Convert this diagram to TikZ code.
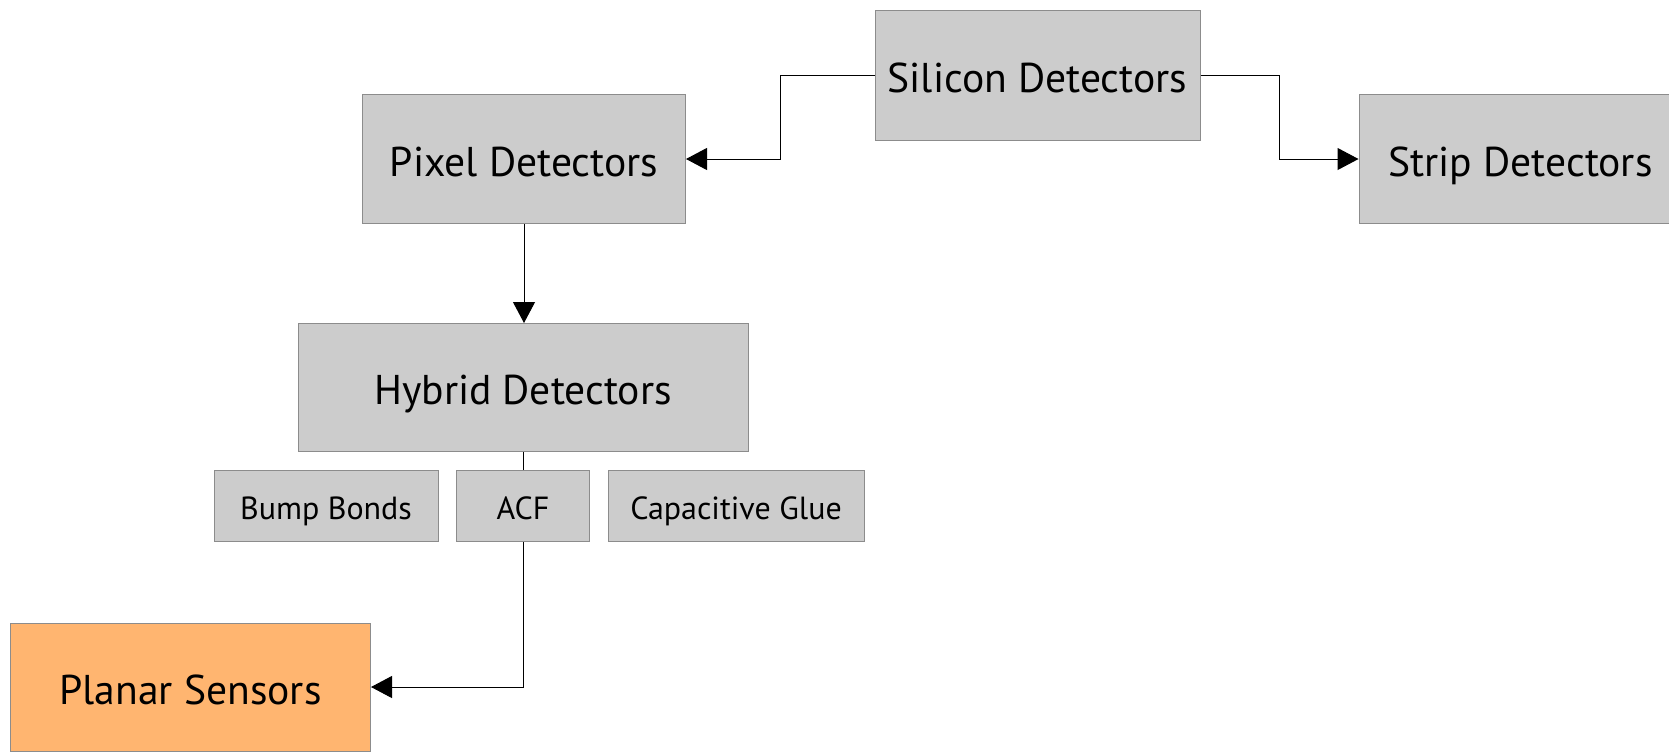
\documentclass[tikz,border=0pt]{standalone}
\usepackage{fontspec}
\setmainfont{PT Sans}
\usetikzlibrary{arrows.meta,calc}
\definecolor{boxgray}{HTML}{CCCCCC}
\definecolor{linegray}{HTML}{8C8C8C}
\definecolor{planarorange}{HTML}{FFB570}
\tikzset{
	detbox/.style={draw=linegray, fill=boxgray, line width=0.5pt, inner sep=0pt,
		text height=17pt, text depth=0pt, font=\fontsize{20.8}{25}\selectfont},
	bondbox/.style={detbox, minimum height=35.5pt, text height=13.2pt,
		font=\fontsize{16}{19}\selectfont},
	link/.style={line width=0.5pt, -{Triangle[length=10.5pt,width=11pt]}}
}
\begin{document}
\begin{tikzpicture}[x=0.5pt,y=-0.5pt]
	\useasboundingbox (0,0) rectangle (1669,751);
	% detector types
	\node[detbox, minimum width=162.5pt, minimum height=65pt] (sil) at (1037.5,75.5) {Silicon Detectors};
	\node[detbox, minimum width=161.5pt, minimum height=64.5pt] (pix) at (524,159) {Pixel Detectors};
	\node[detbox, minimum width=161.5pt, minimum height=64.5pt] (strip) at (1520.5,159) {Strip Detectors};
	\node[detbox, minimum width=225pt, minimum height=64pt] (hyb) at (523,387.5) {Hybrid Detectors};
	% interconnects
	\node[bondbox, minimum width=112pt] (bump) at (326,506) {Bump Bonds};
	\node[bondbox, minimum width=66.5pt] (acf) at (523,506) {ACF};
	\node[bondbox, minimum width=128pt] (glue) at (736,506) {Capacitive Glue};
	\node[detbox, fill=planarorange, minimum width=180pt, minimum height=64pt] (planar) at (190.5,687) {Planar Sensors};
	% connectors
	\draw[link] (sil.west) -| ($(sil.west)!0.5!(pix.east)$) |- (pix.east);
	\draw[link] (sil.east) -| ($(sil.east)!0.5!(strip.west)$) |- (strip.west);
	\draw[link] (pix.south) -- (pix.south |- hyb.north);
	\draw[line width=0.5pt] (hyb.south) -- (hyb.south |- acf.north);
	\draw[link] (acf.south) |- (planar.east);
\end{tikzpicture}
\end{document}
